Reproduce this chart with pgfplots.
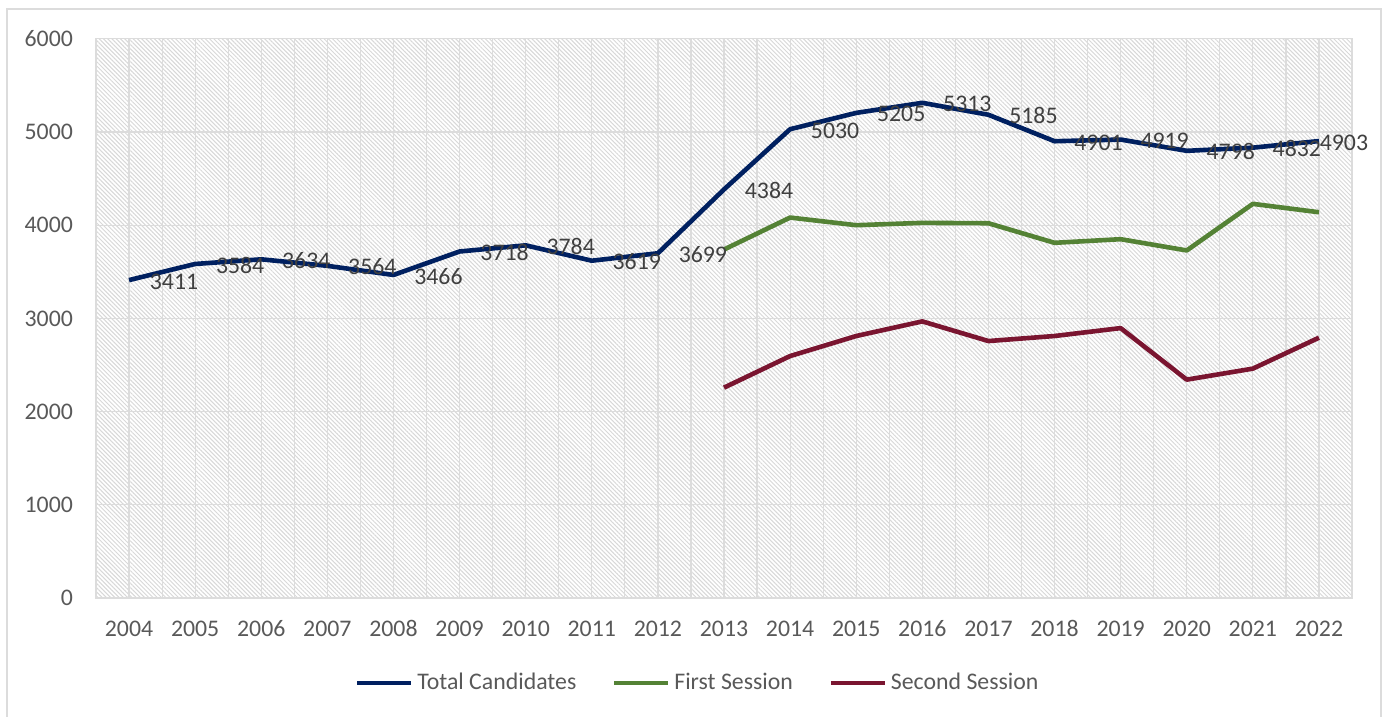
\documentclass[border=0pt]{standalone}
\usepackage{fontspec}
\setmainfont{Carlito}
\usepackage{pgfplots}
\pgfplotsset{compat=1.18}
\usepackage{pgfplotstable}
\usetikzlibrary{patterns.meta}
\definecolor{totalc}{HTML}{002060}
\definecolor{firstc}{HTML}{548235}
\definecolor{secondc}{HTML}{7A1530}
\definecolor{gridc}{HTML}{DCDCDC}
\definecolor{tickc}{HTML}{595959}
\definecolor{labc}{HTML}{404040}
\definecolor{hatchc}{HTML}{D8D8D8}

\pgfplotstableread{
x y dx
0 3411 22.5
1 3584 22.5
2 3634 22.5
3 3564 22.5
4 3466 22.5
5 3718 22.5
6 3784 22.5
7 3619 22.5
8 3699 22.5
9 4384 22.5
10 5030 22.5
11 5205 22.5
12 5313 22.5
13 5185 22.5
14 4901 22
15 4919 22
16 4798 22
17 4832 22
18 4903 12.5
}\totaldata

\pgfplotstableread{
x y
9 3739
10 4082
11 4000
12 4025
13 4021
14 3811
15 3850
16 3729
17 4229
18 4139
}\firstdata

\pgfplotstableread{
x y
9 2257
10 2596
11 2811
12 2968
13 2757
14 2811
15 2896
16 2343
17 2461
18 2793
}\seconddata

\begin{document}
\begin{tikzpicture}
\begin{axis}[
  scale only axis, width=628pt, height=279.6pt,
  xmin=-0.5, xmax=18.5, ymin=0, ymax=6000,
  xtick={0,...,18},
  xticklabels={2004,2005,2006,2007,2008,2009,2010,2011,2012,2013,2014,2015,2016,2017,2018,2019,2020,2021,2022},
  minor xtick={-0.5,0.5,...,18.5},
  ytick={0,1000,...,6000},
  grid=both,
  major grid style={gridc, line width=0.6pt},
  minor grid style={gridc, line width=0.6pt},
  major tick length=0pt, minor tick length=0pt,
  axis line style={gridc, line width=0.6pt},
  axis background/.style={fill=white, postaction={pattern={Lines[angle=-45,distance=1.5pt,line width=0.5pt]}, pattern color=hatchc}},
  tick label style={font=\fontsize{11.9}{14}\selectfont, text=tickc},
  xticklabel style={yshift=-8pt, text height=7.6pt, text depth=0pt},
  yticklabel style={xshift=-8pt},
  /pgf/number format/assume math mode=true,
  /pgf/number format/1000 sep={},
  legend columns=3,
  legend style={draw=none, fill=none, at={(rel axis cs:0.480,-0.152)}, anchor=center,
    font=\fontsize{11.9}{14}\selectfont, text=tickc,
    /tikz/every even column/.append style={column sep=16pt}},
  legend image code/.code={\draw[#1, line width=2pt] (0pt,0pt) -- (27pt,0pt);},
]
\addplot[totalc, line width=2.3pt, line join=round,
  nodes near coords, point meta=explicit symbolic,
  visualization depends on={\thisrow{dx} \as \dx},
  every node near coord/.append style={anchor=center, xshift=\dx*1pt, yshift=-0.75pt, text=labc, text height=7.6pt, text depth=0pt, font=\fontsize{11.9}{14}\selectfont}]
  table[x=x, y=y, meta=y] {\totaldata};
\addlegendentry{Total Candidates}
\addplot[firstc, line width=2.3pt, line join=round] table[x=x, y=y] {\firstdata};
\addlegendentry{First Session}
\addplot[secondc, line width=2.3pt, line join=round] table[x=x, y=y] {\seconddata};
\addlegendentry{Second Session}
\coordinate (O) at (rel axis cs:0,0);
\coordinate (T) at (rel axis cs:1,1);
\end{axis}
\draw[gridc, line width=0.8pt] ([shift={(-44.5pt,-80pt)}]O) rectangle ([shift={(14.5pt,14.9pt)}]T);
\pgfresetboundingbox
\path[use as bounding box] ([shift={(-48pt,-59pt)}]O) rectangle ([shift={(18.5pt,19.4pt)}]T);
\end{tikzpicture}
\end{document}
